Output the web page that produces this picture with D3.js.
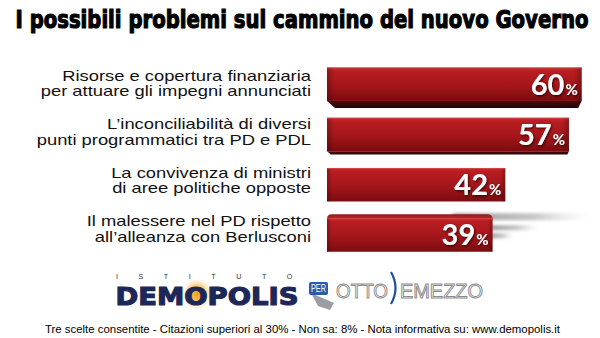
<!DOCTYPE html>
<html><head><meta charset="utf-8">
<script src="https://cdn.jsdelivr.net/npm/d3@7"></script>
<style>html,body{margin:0;padding:0;background:#fff;} svg{display:block;}</style>
</head><body>
<svg id="chart" width="600" height="338"></svg>
<script>
// ---- data ----
const title = "I possibili problemi sul cammino del nuovo Governo";
const categories = [
  "Risorse e copertura finanziaria per attuare gli impegni annunciati",
  "L’inconciliabilità di diversi punti programmatici tra PD e PDL",
  "La convivenza di ministri di aree politiche opposte",
  "Il malessere nel PD rispetto all’alleanza con Berlusconi"
];
const labelLines = [
  ["Risorse e copertura finanziaria", "per attuare gli impegni annunciati"],
  ["L’inconciliabilità di diversi", "punti programmatici tra PD e PDL"],
  ["La convivenza di ministri", "di aree politiche opposte"],
  ["Il malessere nel PD rispetto", "all’alleanza con Berlusconi"]
];
const values = [60, 57, 42, 39];
const footnote = "Tre scelte consentite - Citazioni superiori al 30% - Non sa: 8% - Nota informativa su: www.demopolis.it";
const logoTop = "ISTITUTO";
const logoMain = "DEMOPOLIS";
const logoPer = "PER";
const logoOtto = "OTTO";
const logoMezzo = "EMEZZO";

// ---- drawing ----
const svg = d3.select("#chart");
const defs = svg.append("defs");

const faceGrad = defs.append("linearGradient").attr("id","face").attr("x1",0).attr("y1",0).attr("x2",0).attr("y2",1);
[["0%","#c8292b"],["12%","#b81d20"],["55%","#a3151a"],["100%","#7c0b0f"]].forEach(s=>faceGrad.append("stop").attr("offset",s[0]).attr("stop-color",s[1]));
const sideGrad = defs.append("linearGradient").attr("id","side").attr("x1",0).attr("y1",0).attr("x2",1).attr("y2",0);
[["0%","#000","0.25"],["3%","#000","0"],["97%","#000","0"],["100%","#000","0.25"]].forEach(s=>sideGrad.append("stop").attr("offset",s[0]).attr("stop-color",s[1]).attr("stop-opacity",s[2]));
const botGrad = defs.append("linearGradient").attr("id","bot").attr("x1",0).attr("y1",0).attr("x2",0).attr("y2",1);
[["0%","#4a0a0c"],["100%","#240405"]].forEach(s=>botGrad.append("stop").attr("offset",s[0]).attr("stop-color",s[1]));
const topGrad = defs.append("linearGradient").attr("id","topf").attr("x1",0).attr("y1",0).attr("x2",0).attr("y2",1);
[["0%","#8e1a1c"],["100%","#c0292a"]].forEach(s=>topGrad.append("stop").attr("offset",s[0]).attr("stop-color",s[1]));
const streakGrad = defs.append("linearGradient").attr("id","streak").attr("x1",0).attr("y1",0).attr("x2",1).attr("y2",0);
[["0%","#8a8a8a","0.9"],["60%","#a0a0a0","0.6"],["100%","#c8c8c8","0"]].forEach(s=>streakGrad.append("stop").attr("offset",s[0]).attr("stop-color",s[1]).attr("stop-opacity",s[2]));
const blur = defs.append("filter").attr("id","blur").attr("x","-20%").attr("y","-100%").attr("width","140%").attr("height","300%");
blur.append("feGaussianBlur").attr("stdDeviation","2 1.6");
const shadow = defs.append("filter").attr("id","tshadow").attr("x","-20%").attr("y","-20%").attr("width","150%").attr("height","150%");
shadow.append("feDropShadow").attr("dx",1).attr("dy",1.3).attr("stdDeviation",1.1).attr("flood-color","#2a0000").attr("flood-opacity",0.85);
const glow = defs.append("radialGradient").attr("id","glow");
[["0%","#f7a11a","1"],["45%","#f9b84a","0.9"],["100%","#fde2b0","0"]].forEach(s=>glow.append("stop").attr("offset",s[0]).attr("stop-color",s[1]).attr("stop-opacity",s[2]));

// fit a text horizontally between x and x+width via a scale transform
function fit(sel, x0, width) {
  const w = sel.node().getComputedTextLength();
  sel.attr("x",0).attr("transform",`translate(${x0},0) scale(${width/w},1)`);
  return sel;
}

// title
fit(svg.append("text").attr("y",28.5)
  .style("font-family","'Liberation Sans Narrow','DejaVu Sans Condensed','Liberation Sans',Arial,sans-serif")
  .style("font-weight","bold").style("font-size","25px")
  .attr("fill","#000").attr("stroke","#000").attr("stroke-width",1.1)
  .text(title), 15.5, 573);

const x = d3.scaleLinear().domain([0,100]).range([327, 751.5]);
const y = d3.scaleBand().domain(categories).range([63.5, 257.2]);
const depth = d3.scaleLinear().domain([0, categories.length-1]).range([7,-4]);
const faceH = 33.5;

const rows = svg.append("g").selectAll("g").data(categories).join("g");

rows.each(function(c, i){
  const g = d3.select(this);
  const v = values[i];
  const cy = y(c) + y.bandwidth()/2;
  const d = depth(i);
  const top = cy - faceH/2 - d/2;
  const x0 = x(0), x1 = x(v);

  // motion streaks on the last bar
  if (i === categories.length-1) {
    const sg = g.append("g").attr("filter","url(#blur)");
    sg.append("rect").attr("x",x1-40).attr("y",top-5).attr("width",135).attr("height",7).attr("fill","url(#streak)");
    sg.append("rect").attr("x",x1-5).attr("y",top+7).attr("width",50).attr("height",5).attr("fill","url(#streak)");
    sg.append("rect").attr("x",x1-5).attr("y",top+15).attr("width",25).attr("height",5).attr("fill","url(#streak)");
  }

  if (d > 0.5) {
    g.append("path").attr("d",
      `M${x0},${top+faceH} L${x1},${top+faceH} L${x1-d*0.5},${top+faceH+d} L${x0+d*1.15},${top+faceH+d} Z`)
      .attr("fill","url(#bot)");
  } else if (d < -0.5) {
    const a = -d;
    g.append("path").attr("d",
      `M${x0},${top+0.5} Q${x0},${top-a} ${x0+a*1.2},${top-a} L${x1-a*1.3},${top-a} Q${x1},${top-a} ${x1},${top+0.5} Z`)
      .attr("fill","url(#topf)");
  }
  g.append("rect").attr("x",x0).attr("y",top).attr("width",x1-x0).attr("height",faceH).attr("fill","url(#face)");
  g.append("rect").attr("x",x0).attr("y",top).attr("width",x1-x0).attr("height",faceH).attr("fill","url(#side)");
  g.append("rect").attr("x",x0).attr("y",top).attr("width",x1-x0).attr("height",1).attr("fill","#d9524e").attr("opacity",0.7);

  // value
  const t = g.append("text").attr("x",x1-4).attr("y",top+faceH/2+10.5)
    .attr("text-anchor","end").attr("fill","#fff").attr("filter","url(#tshadow)")
    .style("font-family","Lato,'Open Sans',sans-serif").style("font-weight","bold");
  t.append("tspan").style("font-size","29px").text(v);
  t.append("tspan").style("font-size","15px").attr("dx",1).text("%");

  // category label
  const lg = g.append("g").attr("class","lab");
  lg.selectAll("text").data(labelLines[i]).join("text")
    .attr("x",0).attr("y",(l,j)=> cy - 6.8 + j*15.6)
    .attr("text-anchor","end").attr("fill","#111")
    .style("font-family","'Liberation Sans',Arial,Helvetica,sans-serif").style("font-size","14px")
    .text(l=>l);
});

// horizontal scale to match label widths
const firstLine = svg.select("g.lab text").node();
const sx = 249 / firstLine.getComputedTextLength();
svg.selectAll("g.lab").attr("transform",`translate(311,0) scale(${sx},1)`);

// ---- footer logos ----
const f = svg.append("g");
fit(f.append("text").attr("y",279.5).style("letter-spacing","20px")
  .style("font-family","'Liberation Sans',Arial,sans-serif").style("font-size","7px").attr("fill","#333").text(logoTop), 116, 197);
f.append("circle").attr("cx",197).attr("cy",294).attr("r",16).attr("fill","url(#glow)");
fit(f.append("text").attr("y",305.5)
  .style("font-family","'DejaVu Sans','Liberation Sans',Arial,sans-serif").style("font-weight","bold").style("font-size","25px")
  .attr("fill","#1d2858").attr("stroke","#1d2858").attr("stroke-width",1.2).text(logoMain), 115.5, 183);
// PER tag
f.append("path").attr("d","M311,293 L334,303 L330,310 L318,306 Z").attr("fill","#9a9ea4");
f.append("rect").attr("x",309).attr("y",282).attr("width",19).attr("height",13).attr("rx",2).attr("fill","#2a5da8");
fit(f.append("text").attr("y",292)
  .style("font-family","'Liberation Sans',Arial,sans-serif").style("font-size","10px").attr("fill","#fff").text(logoPer), 311, 15);
fit(f.append("text").attr("y",298.5)
  .style("font-family","'Liberation Sans',Arial,sans-serif").style("font-size","21px")
  .attr("fill","#fafafa").attr("stroke","#8c8c8c").attr("stroke-width",1).text(logoOtto), 336, 52);
f.append("path").attr("d","M391,272 Q400,288 391,304").attr("fill","none").attr("stroke","#1f4fa0").attr("stroke-width",2.2);
fit(f.append("text").attr("y",298.5)
  .style("font-family","'Liberation Sans',Arial,sans-serif").style("font-size","21px")
  .attr("fill","#fafafa").attr("stroke","#8c8c8c").attr("stroke-width",1).text(logoMezzo), 400, 83);

// footnote
fit(svg.append("text").attr("y",333)
  .style("font-family","'Liberation Sans',Arial,sans-serif").style("font-size","11px").attr("fill","#000")
  .text(footnote), 45, 516);
</script>
</body></html>
